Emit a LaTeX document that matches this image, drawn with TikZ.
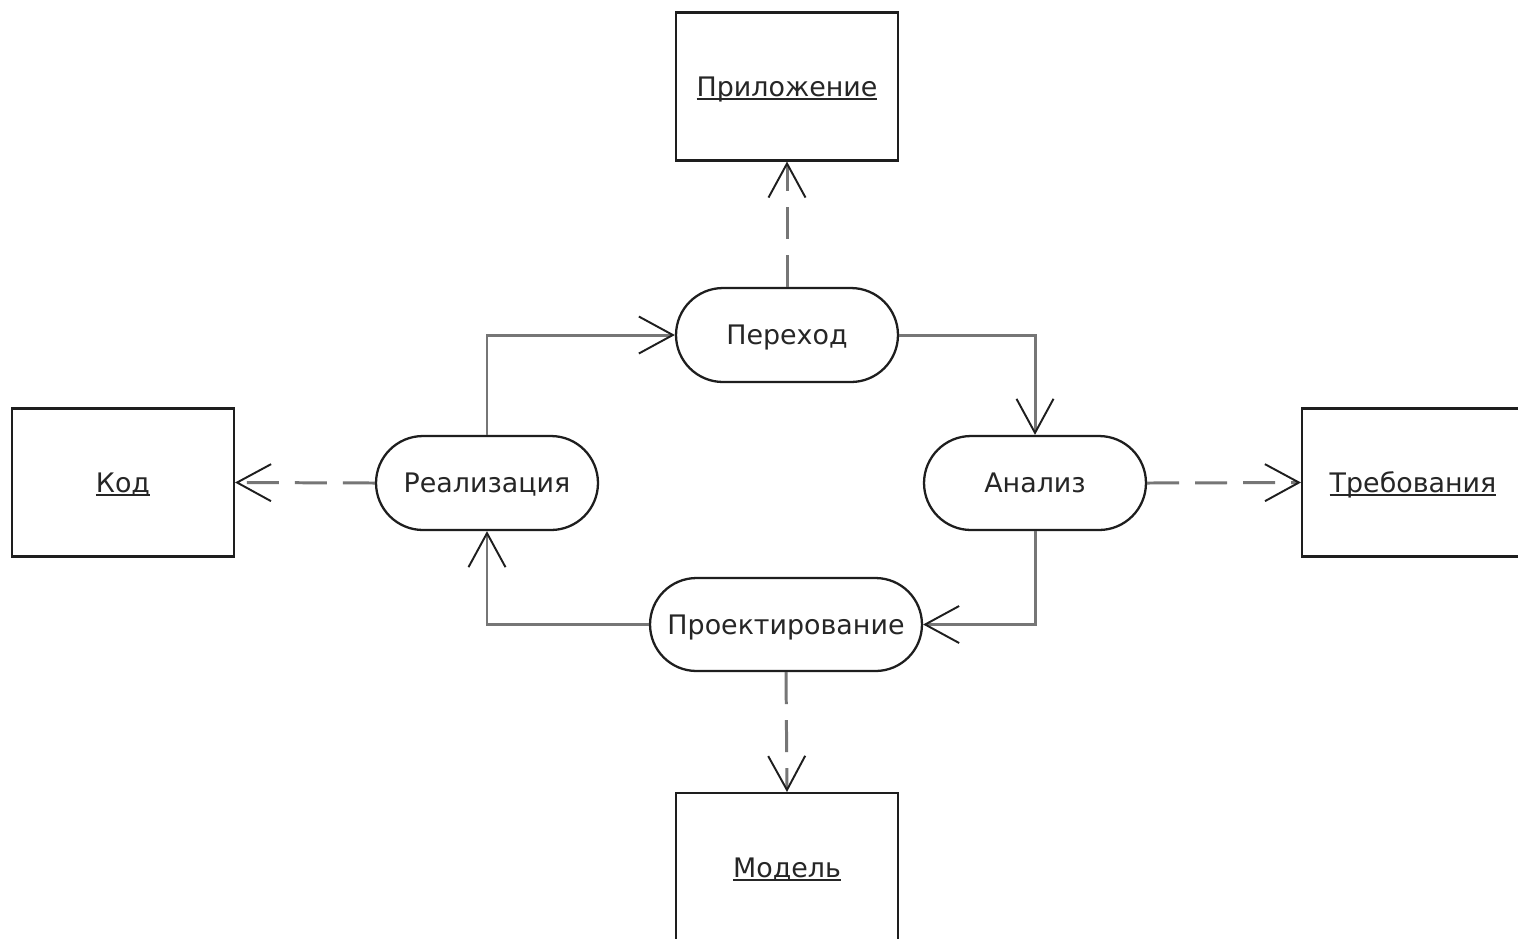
\documentclass[tikz,border=0pt]{standalone}
\usepackage{fontspec}
\setmainfont{DejaVu Sans}
\usetikzlibrary{shapes.misc,arrows.meta}
\definecolor{ink}{HTML}{1E1E1E}
\definecolor{wire}{HTML}{767676}
\definecolor{txt}{HTML}{262626}
% underline set at a fixed offset below the baseline
\newcommand\uln[1]{\setbox0\hbox{#1}\rlap{\rule[-0.15em]{\wd0}{0.075em}}\box0}
\begin{document}
\begin{tikzpicture}[x=0.02cm,y=-0.02cm,
  font=\fontsize{15.3}{18}\selectfont,
  artefact/.style={draw=ink,line width=1.2pt,rectangle,fill=white,text=txt,
    minimum width=4.44cm,minimum height=2.96cm,inner sep=0pt,
    text height=11.2pt,text depth=0pt},
  activity/.style={draw=ink,line width=1.3pt,rounded rectangle,fill=white,text=txt,
    minimum width=4.44cm,minimum height=1.88cm,inner sep=0pt,
    text height=11.2pt,text depth=0pt},
  tip/.style={-{Straight Barb[length=0.68cm,width=0.74cm,color=ink,line width=1.1pt]}},
  flow/.style={draw=wire,line width=1.7pt,tip},
  trace/.style={draw=wire,line width=1.7pt,dash pattern=on 0.64cm off 0.32cm,tip}]
\useasboundingbox (0,0) rectangle (1518,938);
\clip (0,0) rectangle (1518,938);
\fill[white] (0,0) rectangle (1518,938);

% artefacts
\node[artefact] (app)   at (787,86.5)  {\uln{Приложение}};
\node[artefact] (kod)   at (123,482.5) {\uln{Код}};
\node[artefact] (treb)  at (1413,482.5){\uln{Требования}};
\node[artefact,minimum height=2.98cm] (model) at (787,867.5) {\uln{Модель}};

% activities
\node[activity] (per)  at (787,335) {Переход};
\node[activity] (real) at (487,483) {Реализация};
\node[activity] (an)   at (1035,483){Анализ};
\node[activity,minimum width=5.44cm,minimum height=1.86cm] (proj) at (786,624.5) {Проектирование};

% development cycle
\draw[flow] (real.north) |- (per.west);
\draw[flow] (per.east) -| (an.north);
\draw[flow] (an.south) |- (proj.east);
\draw[flow] (proj.west) -| (real.south);

% products of each activity
\draw[trace] (per.north) -- (app.south);
\draw[trace] (real.west) -- (kod.east);
\draw[trace] (an.east) -- (treb.west);
\draw[trace] (proj.south) -- (model.north);
\end{tikzpicture}
\end{document}
